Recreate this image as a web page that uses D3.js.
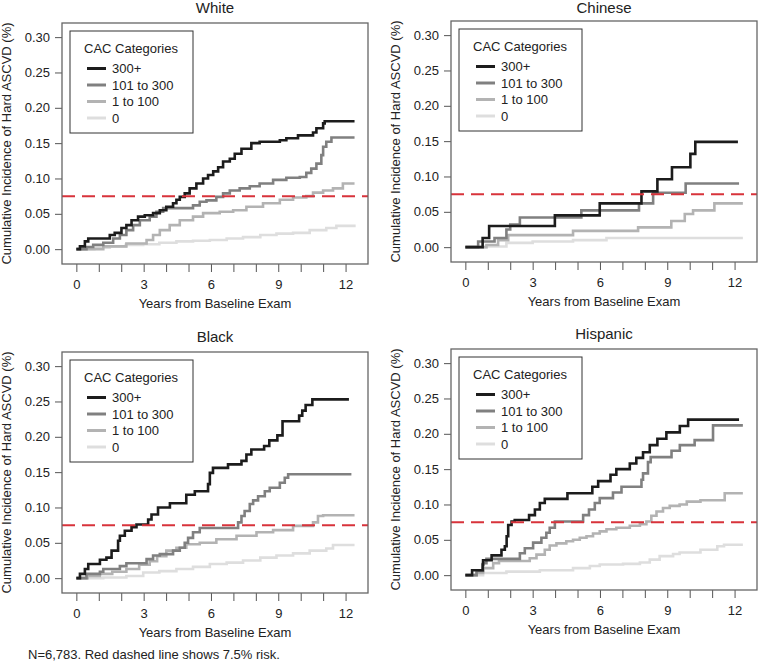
<!DOCTYPE html>
<html>
<head>
<meta charset="utf-8">
<script src="https://cdn.jsdelivr.net/npm/d3@7"></script>
<style>
  body { margin: 0; background: #fff; }
  text { font-family: "Liberation Sans", Arial, sans-serif; fill: #222; }
</style>
</head>
<body>
<div id="chart-container"></div>
<script>
// --- data: [years, cumulative incidence] step points ---
const categories = ["300+", "101 to 300", "1 to 100", "0"];
const panelTitles = ["White", "Chinese", "Black", "Hispanic"];
const xTickValues = [0, 1, 2, 3, 4, 5, 6, 7, 8, 9, 10, 11, 12];
const xTickLabels = [0, 3, 6, 9, 12];
const yTickValues = [0, 0.05, 0.10, 0.15, 0.20, 0.25, 0.30];
const riskLine = 0.075;
const footNote = "N=6,783. Red dashed line shows 7.5% risk.";

const white300 = [[0,0],[0.16,0.004],[0.38,0.011],[0.53,0.015],[1.49,0.02],[1.71,0.023],[2.01,0.03],[2.23,0.034],[2.46,0.041],[2.75,0.046],[3.05,0.048],[3.42,0.051],[3.72,0.055],[4.01,0.06],[4.31,0.065],[4.46,0.07],[4.61,0.074],[4.83,0.079],[5.05,0.086],[5.35,0.093],[5.65,0.1],[5.87,0.105],[6.1,0.11],[6.32,0.116],[6.54,0.124],[6.84,0.128],[7.06,0.135],[7.36,0.142],[7.8,0.15],[8.17,0.152],[9.07,0.154],[9.36,0.157],[9.88,0.161],[10.55,0.165],[10.7,0.171],[11.0,0.178],[11.07,0.181],[12.4,0.181]];
const white101 = [[0,0],[0.45,0.003],[0.75,0.006],[1.2,0.009],[1.64,0.015],[1.94,0.02],[2.23,0.027],[2.53,0.034],[2.83,0.041],[3.27,0.046],[3.57,0.053],[3.87,0.058],[5.2,0.062],[5.5,0.067],[5.8,0.069],[6.24,0.074],[6.54,0.079],[6.84,0.083],[7.28,0.086],[7.73,0.089],[8.17,0.093],[8.77,0.098],[9.36,0.101],[9.96,0.102],[10.25,0.108],[10.47,0.114],[10.7,0.121],[10.92,0.133],[11.0,0.145],[11.14,0.152],[11.37,0.158],[12.4,0.158]];
const white1 = [[0,0],[1.2,0.004],[2.23,0.008],[3.13,0.013],[3.42,0.02],[3.72,0.027],[4.16,0.034],[4.61,0.041],[5.2,0.046],[5.65,0.051],[6.39,0.053],[6.99,0.055],[7.58,0.06],[8.32,0.065],[9.07,0.07],[9.66,0.073],[10.25,0.075],[10.55,0.08],[11.0,0.083],[11.44,0.086],[11.88,0.093],[12.4,0.093]];
const white0 = [[0,0],[0.8,0.002],[1.49,0.004],[2.2,0.006],[2.98,0.007],[3.7,0.009],[4.46,0.011],[5.2,0.012],[5.95,0.013],[6.7,0.015],[7.43,0.017],[8.2,0.02],[8.92,0.022],[9.66,0.023],[10.4,0.027],[11.14,0.03],[11.59,0.033],[12.45,0.033]];

const chinese300 = [[0,0],[0.77,0.013],[1.06,0.03],[3.99,0.045],[5.99,0.062],[7.85,0.079],[8.56,0.096],[9.21,0.113],[10.03,0.132],[10.25,0.149],[12.15,0.149]];
const chinese101 = [[0,0],[0.57,0.008],[1.3,0.013],[1.83,0.025],[2.0,0.032],[2.43,0.042],[5.17,0.052],[7.74,0.062],[8.37,0.077],[9.82,0.09],[12.2,0.09]];
const chinese1 = [[0,0],[0.94,0.003],[1.46,0.01],[1.91,0.017],[4.8,0.023],[7.7,0.028],[9.18,0.037],[9.78,0.047],[10.15,0.052],[11.1,0.062],[12.37,0.062]];
const chinese0 = [[0,0],[0.94,0.001],[1.83,0.006],[3.0,0.008],[4.8,0.01],[6.29,0.013],[12.37,0.013]];

const black300 = [[0,0],[0.16,0.006],[0.38,0.013],[0.53,0.02],[1.05,0.026],[1.34,0.029],[1.57,0.039],[1.86,0.053],[1.94,0.06],[2.16,0.067],[2.46,0.072],[2.68,0.076],[3.2,0.083],[3.35,0.09],[3.64,0.1],[4.17,0.106],[4.9,0.118],[5.28,0.123],[5.87,0.133],[5.95,0.149],[6.09,0.156],[6.76,0.161],[7.36,0.166],[7.58,0.175],[7.8,0.182],[8.37,0.187],[8.6,0.195],[8.96,0.202],[9.19,0.222],[9.93,0.23],[10.07,0.237],[10.22,0.245],[10.52,0.253],[12.15,0.253]];
const black101 = [[0,0],[0.45,0.006],[1.05,0.009],[1.2,0.013],[1.94,0.017],[2.23,0.021],[3.13,0.027],[3.42,0.032],[3.72,0.034],[4.31,0.039],[4.61,0.043],[4.83,0.05],[4.98,0.057],[5.2,0.065],[5.5,0.071],[7.21,0.079],[7.36,0.088],[7.5,0.095],[7.73,0.105],[7.88,0.11],[8.1,0.116],[8.4,0.123],[8.62,0.128],[9.07,0.135],[9.29,0.142],[9.44,0.147],[12.26,0.147]];
const black1 = [[0,0],[0.5,0.003],[1.05,0.006],[1.6,0.009],[2.23,0.013],[2.8,0.019],[3.27,0.024],[3.6,0.031],[4.01,0.039],[4.46,0.043],[4.9,0.048],[5.5,0.05],[6.24,0.055],[7.14,0.06],[8.03,0.065],[8.77,0.068],[9.66,0.074],[10.55,0.079],[10.77,0.088],[11.0,0.089],[12.4,0.089]];
const black0 = [[0,0],[1.2,0.001],[2.23,0.003],[2.98,0.008],[3.7,0.01],[4.46,0.013],[5.2,0.016],[5.95,0.02],[6.7,0.022],[7.43,0.025],[8.2,0.029],[8.92,0.032],[9.66,0.035],[10.4,0.039],[11.14,0.042],[11.44,0.047],[12.4,0.047]];

const hisp300 = [[0,0],[0.3,0.007],[0.77,0.015],[0.79,0.021],[1.17,0.028],[1.61,0.036],[1.76,0.041],[1.84,0.055],[1.91,0.071],[2.06,0.076],[2.2,0.078],[2.84,0.085],[3.1,0.093],[3.32,0.102],[3.54,0.108],[4.55,0.116],[5.66,0.125],[5.92,0.133],[6.47,0.142],[6.73,0.15],[7.33,0.158],[7.62,0.166],[7.92,0.174],[8.22,0.184],[8.56,0.193],[8.96,0.202],[9.56,0.211],[9.93,0.22],[12.2,0.22]];
const hisp101 = [[0,0],[0.5,0.006],[0.79,0.017],[0.94,0.023],[2.43,0.031],[2.65,0.038],[3.02,0.046],[3.39,0.053],[3.61,0.06],[3.76,0.067],[3.99,0.076],[5.25,0.085],[5.51,0.093],[5.77,0.102],[5.99,0.109],[6.58,0.117],[6.96,0.125],[7.85,0.135],[7.92,0.144],[8.14,0.16],[8.26,0.167],[9.19,0.176],[9.56,0.184],[10.22,0.191],[11.04,0.212],[12.37,0.212]];
const hisp1 = [[0,0],[0.5,0.003],[0.79,0.01],[1.24,0.017],[1.5,0.02],[2.87,0.024],[3.17,0.029],[3.54,0.036],[3.76,0.042],[4.06,0.045],[4.5,0.048],[4.8,0.05],[5.1,0.053],[5.4,0.055],[5.69,0.059],[5.99,0.062],[6.29,0.065],[6.73,0.067],[7.33,0.07],[7.78,0.072],[8.07,0.076],[8.29,0.084],[8.52,0.09],[8.81,0.095],[9.11,0.098],[9.55,0.1],[9.87,0.104],[10.48,0.106],[11.56,0.116],[12.37,0.116]];
const hisp0 = [[0,0],[0.79,0.003],[1.83,0.005],[3.32,0.007],[4.8,0.01],[5.55,0.013],[5.99,0.015],[7.03,0.016],[7.78,0.018],[8.22,0.022],[8.66,0.027],[9.26,0.03],[9.55,0.032],[10.48,0.036],[11.23,0.041],[11.53,0.043],[12.37,0.043]];

// series per panel, in the same order as categories
const panelSeries = [
  [white300, white101, white1, white0],
  [chinese300, chinese101, chinese1, chinese0],
  [black300, black101, black1, black0],
  [hisp300, hisp101, hisp1, hisp0]
];

// --- layout / style ---
const svgWidth = 758, svgHeight = 668;
const boxW = 306, boxH = 241;
const panelPos = [
  { left: 62, top: 23 },
  { left: 451, top: 21 },
  { left: 62, top: 352 },
  { left: 451, top: 349 }
];
const lineColors = ["#1c1c1c", "#808080", "#b3b3b3", "#dedede"];

const svg = d3.select("#chart-container")
  .append("svg")
  .attr("width", svgWidth)
  .attr("height", svgHeight);

const drawPanel = (idx) => {
  const p = panelPos[idx];
  const x = d3.scaleLinear().domain([-0.64, 13.0]).range([p.left, p.left + boxW]);
  const y = d3.scaleLinear().domain([-0.021, 0.32]).range([p.top + boxH, p.top]);
  const g = svg.append("g");

  // title (kept inside the top edge)
  g.append("text")
    .attr("x", p.left + boxW / 2)
    .attr("y", Math.max(p.top - 10, 13))
    .attr("text-anchor", "middle")
    .style("font-size", "15px")
    .text(panelTitles[idx]);

  // x axis (tick each year, label every 3)
  const xAxis = d3.axisBottom(x)
    .tickValues(xTickValues)
    .tickSize(8)
    .tickPadding(8)
    .tickFormat(d => xTickLabels.includes(d) ? d : "");
  const gx = g.append("g")
    .attr("transform", `translate(0, ${p.top + boxH})`)
    .call(xAxis);
  gx.select(".domain").remove();
  gx.selectAll(".tick line").attr("stroke", "#555");
  gx.selectAll("text").style("font-size", "13px").style("font-family", "Liberation Sans, Arial, sans-serif").attr("fill", "#222");

  // y axis
  const yAxis = d3.axisLeft(y)
    .tickValues(yTickValues)
    .tickSize(7)
    .tickPadding(5)
    .tickFormat(d3.format(".2f"));
  const gy = g.append("g")
    .attr("transform", `translate(${p.left}, 0)`)
    .call(yAxis);
  gy.select(".domain").remove();
  gy.selectAll(".tick line").attr("stroke", "#555");
  gy.selectAll("text").style("font-size", "13px").style("font-family", "Liberation Sans, Arial, sans-serif").attr("fill", "#222");

  // axis titles
  g.append("text")
    .attr("x", p.left + boxW / 2)
    .attr("y", p.top + boxH + 44)
    .attr("text-anchor", "middle")
    .style("font-size", "13px")
    .text("Years from Baseline Exam");

  g.append("text")
    .attr("transform", `translate(${p.left - 51}, ${p.top + boxH / 2}) rotate(-90)`)
    .attr("text-anchor", "middle")
    .style("font-size", "13px")
    .text("Cumulative Incidence of Hard ASCVD (%)");

  // step curves, lightest first so black sits on top
  const line = d3.line()
    .x(d => x(d[0]))
    .y(d => y(d[1]))
    .curve(d3.curveStepAfter);

  const series = panelSeries[idx];
  for (let i = series.length - 1; i >= 0; i--) {
    g.append("path")
      .datum(series[i])
      .attr("d", line)
      .attr("fill", "none")
      .attr("stroke", lineColors[i])
      .attr("stroke-width", 2.6);
  }

  // 7.5% risk line
  g.append("line")
    .attr("x1", p.left)
    .attr("x2", p.left + boxW)
    .attr("y1", y(riskLine))
    .attr("y2", y(riskLine))
    .attr("stroke", "#d8333b")
    .attr("stroke-width", 2)
    .attr("stroke-dasharray", "13,7");

  // plot box
  g.append("rect")
    .attr("x", p.left)
    .attr("y", p.top)
    .attr("width", boxW)
    .attr("height", boxH)
    .attr("fill", "none")
    .attr("stroke", "#666")
    .attr("stroke-width", 1.3);

  // legend
  const lx = p.left + 8, ly = p.top + 8;
  const legend = g.append("g");
  legend.append("rect")
    .attr("x", lx)
    .attr("y", ly)
    .attr("width", 123)
    .attr("height", 102)
    .attr("fill", "#fff")
    .attr("stroke", "#333")
    .attr("stroke-width", 1);
  legend.append("text")
    .attr("x", lx + 14)
    .attr("y", ly + 22)
    .style("font-size", "13px")
    .text("CAC Categories");

  const entry = legend.selectAll("g.entry")
    .data(categories)
    .join("g")
    .attr("class", "entry")
    .attr("transform", (d, i) => `translate(0, ${ly + 37.5 + i * 16.5})`);
  entry.append("line")
    .attr("x1", lx + 17)
    .attr("x2", lx + 36)
    .attr("stroke", (d, i) => lineColors[i])
    .attr("stroke-width", 3);
  entry.append("text")
    .attr("x", lx + 42)
    .attr("dy", "0.35em")
    .style("font-size", "13px")
    .text(d => d);
};

panelTitles.forEach((t, i) => drawPanel(i));

svg.append("text")
  .attr("x", 28)
  .attr("y", 659)
  .style("font-size", "13px")
  .text(footNote);
</script>
</body>
</html>
